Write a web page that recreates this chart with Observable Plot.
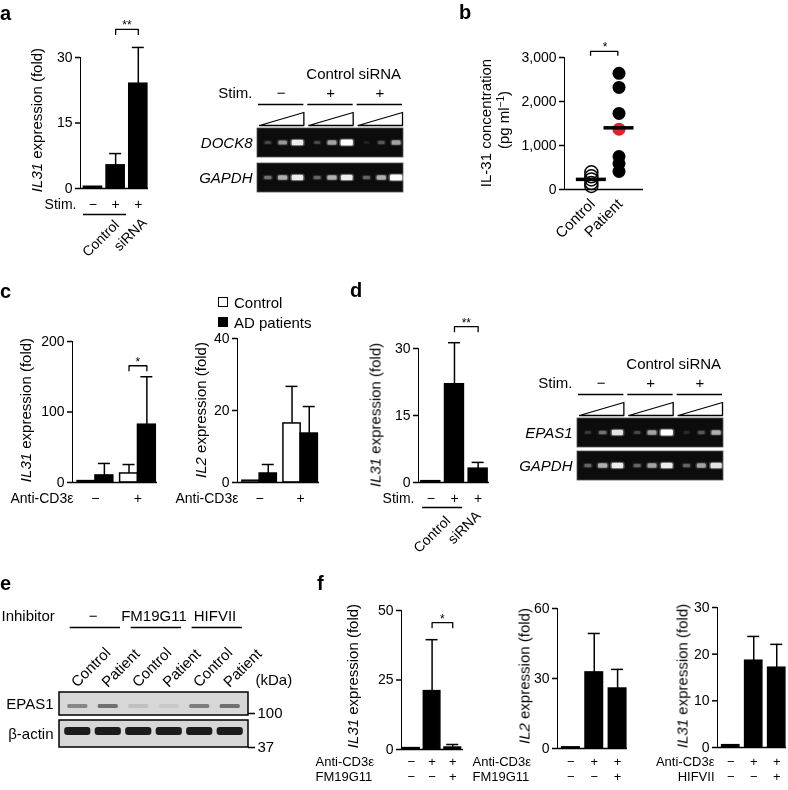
<!DOCTYPE html>
<html><head><meta charset="utf-8">
<script src="https://cdn.jsdelivr.net/npm/d3@7"></script>
<script src="https://cdn.jsdelivr.net/npm/@observablehq/plot@0.6"></script>
<style>
html,body{margin:0;padding:0;background:#fff;}
#fig{position:relative;width:788px;height:790px;overflow:hidden;font-family:"Liberation Sans",Arial,Helvetica,sans-serif;color:#000;background:#fff;}
#fig svg{will-change:transform;}
.lbl{position:absolute;white-space:nowrap;line-height:1;font-size:15px;}
#fig svg g[aria-label^="y-axis"] path,#fig svg g[aria-label^="y-axis"] line{stroke-width:1.5px;}
.sq{position:absolute;width:8px;height:8px;border:1.5px solid #000;}
</style></head>
<body><div id="fig"></div>
<script>
// ================= DATA =================
// Panel a
const aStim = ["−", "+", "+"];
const aIL31 = [0.4, 5.3, 24.0];
const aIL31Err = [0, 2.7, 8.3];
const aTicks = [0, 15, 30];
const aGroupLabels = ["Control", "siRNA"];
const aGelGroupLabels = ["", "Control", "siRNA"];
const aGelStim = ["−", "+", "+"];
const aGelGenes = ["DOCK8", "GAPDH"];
const aDOCK8 = [[0.2, 0.5, 0.9], [0.2, 0.55, 1.0], [0.08, 0.25, 0.55]];
const aGAPDH = [[0.35, 0.6, 0.9], [0.3, 0.6, 0.9], [0.3, 0.6, 1.0]];
// Panel b
const bGroups = ["Control", "Patient"];
const bControl = [390, 300, 230, 150, 80];
const bPatient = [2640, 2320, 1730, 1370, 750, 590, 410];
const bHighlight = 1370;
const bTicks = [0, 1000, 2000, 3000];
// Panel c
const cAnti = ["−", "+"];
const cLegend = ["Control", "AD patients"];
const cIL31Ctrl = [2, 12.8], cIL31CtrlErr = [0, 12.7];
const cIL31AD = [10, 82], cIL31ADErr = [17, 68];
const cIL31Ticks = [0, 100, 200];
const cIL2Ctrl = [0.5, 16.4], cIL2CtrlErr = [0, 10.3];
const cIL2AD = [2.5, 13.6], cIL2ADErr = [2.5, 7.5];
const cIL2Ticks = [0, 20, 40];
// Panel d
const dStim = ["−", "+", "+"];
const dIL31 = [0.3, 22, 3.1], dIL31Err = [0, 9.3, 1.4];
const dTicks = [0, 15, 30];
const dGroupLabels = ["Control", "siRNA"];
const dGelGroupLabels = ["", "Control", "siRNA"];
const dGelGenes = ["EPAS1", "GAPDH"];
const dEPAS1 = [[0.15, 0.35, 0.85], [0.2, 0.55, 1.0], [0.1, 0.25, 0.6]];
const dGAPDH = [[0.3, 0.6, 0.9], [0.3, 0.55, 0.9], [0.3, 0.55, 0.85]];
// Panel e
const eInhibitors = ["−", "FM19G11", "HIFVII"];
const eLanes = ["Control", "Patient", "Control", "Patient", "Control", "Patient"];
const eProteins = ["EPAS1", "β-actin"];
const eEPAS1 = [0.55, 0.7, 0.15, 0.1, 0.6, 0.7];
const eActin = [1, 1, 1, 1, 1, 1];
const eMarkers = ["100", "37"];
// Panel f
const fAnti = ["−", "+", "+"];
const fFM = ["−", "−", "+"];
const fHIF = ["−", "−", "+"];
const f1IL31 = [0.5, 21, 0.7], f1Err = [0, 18.5, 1.1];
const f2IL2 = [0.5, 32.6, 25.7], f2Err = [0, 16.7, 8.2];
const f3IL31 = [0.5, 18.6, 17.1], f3Err = [0, 5.2, 5.0];
const fTicks1 = [0, 25, 50], fTicks2 = [0, 30, 60], fTicks3 = [0, 10, 20, 30];

// ================= HELPERS =================
const FONT = '"Liberation Sans", Arial, Helvetica, sans-serif';
const STYLE = {fontFamily: FONT, fontSize: "14px", background: "transparent", overflow: "visible", color: "black"};
const fig = document.getElementById("fig");
function place(node, left, top) {
  node.style.position = "absolute";
  node.style.left = left + "px";
  node.style.top = top + "px";
  fig.appendChild(node);
}
function label(html, x, y, o = {}) {
  const d = document.createElement("div");
  d.className = "lbl";
  d.innerHTML = html;
  const ax = o.anchor === "end" ? 100 : o.anchor === "start" ? 0 : 50;
  d.style.left = x + "px";
  d.style.top = y + "px";
  if (o.size) d.style.fontSize = o.size + "px";
  if (o.weight) d.style.fontWeight = o.weight;
  d.style.transformOrigin = `${ax}% 50%`;
  d.style.transform = `translate(${-ax}%,-50%) rotate(${o.rot || 0}deg)`;
  fig.appendChild(d);
}
function letter(ch, x, baseline) {
  const d = document.createElement("div");
  d.className = "lbl";
  d.textContent = ch;
  d.style.fontSize = "20px";
  d.style.fontWeight = "bold";
  d.style.left = x + "px";
  d.style.top = (baseline - 0.846 * 20) + "px";
  fig.appendChild(d);
}

function barChart(o) {
  const mL = 95, mR = 8, mT = 50, mB = 55;
  const pw = o.endX - o.axisX, ph = o.y0 - o.yTop;
  const ppu = ph / o.yMax, upx = pw / o.n;
  const bars = o.bars.map(d => ({...d, xc: (d.x1 + d.x2) / 2}));
  const errs = bars.filter(d => d.e > 0);
  const cap = 6 / upx;
  const marks = [
    Plot.rect(bars.filter(d => d.fill === "white"), {x1: "x1", x2: "x2", y1: 0, y2: "v", fill: "white", stroke: "black", strokeWidth: 1.5}),
    Plot.rect(bars.filter(d => d.fill !== "white"), {x1: "x1", x2: "x2", y1: 0, y2: "v", fill: "black", stroke: "black", strokeWidth: 1.5}),
    Plot.ruleX(errs, {x: "xc", y1: "v", y2: d => d.v + d.e, strokeWidth: 1.5}),
    Plot.ruleY(errs, {y: d => d.v + d.e, x1: d => d.xc - cap, x2: d => d.xc + cap, strokeWidth: 1.5}),
    Plot.ruleY([0], {strokeWidth: 1.5})
  ];
  for (const b of o.brackets || []) {
    const top = d3.max(bars.slice(b.i, b.j + 1), d => d.v + d.e);
    const y = top + b.gap / ppu, leg = 5 / ppu;
    const xa = bars[b.i].xc, xb = bars[b.j].xc;
    marks.push(Plot.line([[xa, y - leg], [xa, y], [xb, y], [xb, y - leg]], {x: d => d[0], y: d => d[1], strokeWidth: 1.3, curve: "linear"}));
    marks.push(Plot.text([b.text], {x: (xa + xb) / 2, y: y, text: d => d, dy: -4, fontSize: 12}));
  }
  for (const r of o.rows || []) {
    const fs = r.fontSize || 14;
    marks.push(Plot.text(r.signs, {x: (d, i) => r.xs[i], y: 0, text: d => d, dy: r.dy, fontSize: fs}));
    marks.push(Plot.text([r.label], {x: 0, y: 0, text: d => d, dy: r.dy, dx: r.dx, textAnchor: r.anchor, fontSize: fs}));
  }
  for (const u of o.underlines || []) marks.push(Plot.ruleY([0], {x1: u.x1, x2: u.x2, dy: u.dy, strokeWidth: 1.3}));
  for (const l of o.rotLabels || []) marks.push(Plot.text([l.text], {x: l.x, y: 0, text: d => d, dy: l.dy, rotate: -45, textAnchor: "end"}));
  const p = Plot.plot({
    width: mL + pw + mR, height: mT + ph + mB,
    marginLeft: mL, marginRight: mR, marginTop: mT, marginBottom: mB,
    x: {domain: [0, o.n], axis: null},
    y: {domain: [0, o.yMax], ticks: o.ticks, tickSize: 5, tickPadding: 3, tickFormat: o.fmt || (d => String(d)), label: null, line: true},
    style: STYLE, marks
  });
  place(p, o.axisX - mL, o.yTop - mT);
}

function gelPanel(o) {
  const mL = 70, mR = 6, up = 64, down = o.row2 + 31;
  const W = mL + 146 + mR, H = up + down;
  const groups = [0, 1, 2];
  const rowTop = [0, o.row2];
  const bandData = o.bands.flatMap((gene, r) => gene.flatMap((grp, g) => grp.map((v, k) => ({r, g, k, v}))));
  const bx = d => d.g + 0.2 + 0.3 * d.k;
  const hw = d => 0.05 + 0.075 * d.v;
  const hh = d => 1.2 + 1.8 * d.v;
  const wedge = groups.flatMap(g => [[g + 0.02, -3, g], [g + 0.92, -16, g], [g + 0.92, -3, g], [g + 0.02, -3, g]]);
  const marks = [
    Plot.text(o.groupLabels, {x: (d, i) => i + 0.46, y: -54, text: d => d, fontSize: 15}),
    Plot.text(["Stim."], {x: -0.02, y: -35, dx: -5, textAnchor: "end", text: d => d, fontSize: 15}),
    Plot.text(o.stim, {x: (d, i) => i + 0.46, y: -35, text: d => d, fontSize: 15}),
    Plot.ruleY(groups, {y: () => -24, x1: g => g, x2: g => g + 0.92, strokeWidth: 1.5}),
    Plot.line(wedge, {x: d => d[0], y: d => d[1], z: d => d[2], strokeWidth: 1.3, curve: "linear"}),
    Plot.rect(o.genes, {x1: -0.02, x2: 2.94, y1: (d, i) => rowTop[i], y2: (d, i) => rowTop[i] + 29, fill: "#0c0c0c", stroke: "#555", strokeWidth: 0.8}),
    Plot.rect(bandData, {x1: d => bx(d) - hw(d) - 0.03, x2: d => bx(d) + hw(d) + 0.03, y1: d => rowTop[d.r] + 14.5 - hh(d) - 1, y2: d => rowTop[d.r] + 14.5 + hh(d) + 1, fill: "white", fillOpacity: d => d.v * 0.3, rx: 2}),
    Plot.rect(bandData, {x1: d => bx(d) - hw(d), x2: d => bx(d) + hw(d), y1: d => rowTop[d.r] + 14.5 - hh(d), y2: d => rowTop[d.r] + 14.5 + hh(d), fill: "white", fillOpacity: d => d.v, rx: 1.5}),
    Plot.text(o.genes, {x: -0.02, y: (d, i) => rowTop[i] + 14.5, dx: -5, textAnchor: "end", fontStyle: "italic", text: d => d, fontSize: 15})
  ];
  const p = Plot.plot({
    width: W, height: H, marginLeft: mL, marginRight: mR, marginTop: 0, marginBottom: 0,
    x: {domain: [-0.02, 2.94], axis: null},
    y: {domain: [down, -up], axis: null},
    style: STYLE, marks
  });
  place(p, o.left - mL, o.top - up);
}

function panelB() {
  const axisX = 564, yTop = 57, y0 = 189, endX = 643, yMax = 3000;
  const mL = 95, mR = 8, mT = 50, mB = 55;
  const pw = endX - axisX, ph = y0 - yTop, ppu = ph / yMax;
  const pos = [0.68, 1.38];
  const pts = [...bControl.map(v => ({g: 0, v})), ...bPatient.map(v => ({g: 1, v}))];
  const means = [{g: 0, m: d3.mean(bControl)}, {g: 1, m: d3.mean(bPatient)}];
  const by = d3.max(bPatient) + 22 / ppu, leg = 4 / ppu;
  const marks = [
    Plot.dot(pts.filter(d => d.g === 0), {x: d => pos[d.g], y: "v", r: 6.5, fill: "none", stroke: "black", strokeWidth: 1.5}),
    Plot.dot(pts.filter(d => d.g === 1 && d.v !== bHighlight), {x: d => pos[d.g], y: "v", r: 6.5, fill: "black"}),
    Plot.dot(pts.filter(d => d.g === 1 && d.v === bHighlight), {x: d => pos[d.g], y: "v", r: 6.5, fill: "#e5202a"}),
    Plot.ruleY(means, {y: "m", x1: d => pos[d.g] - 0.38, x2: d => pos[d.g] + 0.38, strokeWidth: 3.5}),
    Plot.ruleY([0], {strokeWidth: 1.5}),
    Plot.line([[pos[0] - 0.02, by - leg], [pos[0] - 0.02, by], [pos[1] - 0.03, by], [pos[1] - 0.03, by - leg]], {x: d => d[0], y: d => d[1], strokeWidth: 1.3}),
    Plot.text(["*"], {x: (pos[0] + pos[1]) / 2, y: by, dy: -4, fontSize: 12, text: d => d}),
    ...bGroups.map((t, i) => Plot.text([t], {x: pos[i], y: 0, dy: 12, dx: 1, rotate: -45, textAnchor: "end", text: d => d, fontSize: 15}))
  ];
  const p = Plot.plot({
    width: mL + pw + mR, height: mT + ph + mB,
    marginLeft: mL, marginRight: mR, marginTop: mT, marginBottom: mB,
    x: {domain: [0, 2], axis: null},
    y: {domain: [0, yMax], ticks: bTicks, tickSize: 5, tickPadding: 3, tickFormat: d3.format(","), label: null, line: true},
    style: STYLE, marks
  });
  place(p, axisX - mL, yTop - mT);
}

function panelE() {
  const boxL = 59, boxR = 248, mL = 59, mR = 45, up = 92, down = 63;
  const W = mL + (boxR - boxL) + mR, H = up + down;
  const rowsY = [[0, 23], [28, 55]];
  const band = [...eEPAS1.map((v, i) => ({r: 0, i, v})), ...eActin.map((v, i) => ({r: 1, i, v}))];
  const markerY = (d, i) => rowsY[i][1] - (i === 0 ? 2 : 0);
  const marks = [
    Plot.text(["Inhibitor"], {x: -0.6, y: -76, dx: -58, textAnchor: "start", text: d => d, fontSize: 15}),
    Plot.text(eInhibitors, {x: (d, i) => 2 * i + 0.5, y: -76, text: d => d, fontSize: 15}),
    Plot.ruleY(eInhibitors, {y: () => -65, x1: (d, i) => 2 * i - 0.25, x2: (d, i) => 2 * i + 1.4, strokeWidth: 1.5}),
    Plot.text(eLanes, {x: (d, i) => i, y: -8, dx: -4, rotate: -45, textAnchor: "start", text: d => d, fontSize: 15}),
    Plot.text(["(kDa)"], {x: 5.6, y: -12, dx: 7, textAnchor: "start", text: d => d, fontSize: 15}),
    Plot.rect(eProteins, {x1: -0.6, x2: 5.6, y1: (d, i) => rowsY[i][0], y2: (d, i) => rowsY[i][1], fill: "#d7d7d7", stroke: "black", strokeWidth: 1.5}),
    Plot.rect(band.filter(d => d.r === 0), {x1: d => d.i - 0.33, x2: d => d.i + 0.33, y1: 12, y2: 16, fill: "#2a2a2a", fillOpacity: d => d.v * 0.85, rx: 1.5}),
    Plot.rect(band.filter(d => d.r === 1), {x1: d => d.i - 0.43, x2: d => d.i + 0.43, y1: 35, y2: 43, fill: "#1c1c1c", fillOpacity: d => d.v, rx: 3}),
    Plot.text(eProteins, {x: -0.6, y: (d, i) => (rowsY[i][0] + rowsY[i][1]) / 2, dx: -6, textAnchor: "end", text: d => d, fontSize: 15}),
    Plot.ruleY(eMarkers, {y: markerY, x1: 5.6, x2: 5.83, strokeWidth: 1.5}),
    Plot.text(eMarkers, {x: 5.83, y: markerY, dx: 2, textAnchor: "start", text: d => d, fontSize: 15})
  ];
  const p = Plot.plot({
    width: W, height: H, marginLeft: mL, marginRight: mR, marginTop: 0, marginBottom: 0,
    x: {domain: [-0.6, 5.6], axis: null},
    y: {domain: [down, -up], axis: null},
    style: STYLE, marks
  });
  place(p, 0, 692 - up);
}

// ================= BUILD =================
// Panel a
const aBars = aIL31.map((v, i) => ({x1: i + 0.15, x2: i + 0.95, v, e: aIL31Err[i], fill: "black"}));
barChart({
  axisX: 80, yTop: 57, y0: 188, endX: 148, n: 3, yMax: 30, ticks: aTicks, bars: aBars,
  brackets: [{i: 1, j: 2, gap: 18, text: "**"}],
  rows: [{signs: aStim, xs: aBars.map(d => (d.x1 + d.x2) / 2), dy: 16, label: "Stim.", dx: -4, anchor: "end"}],
  underlines: [{x1: 0.13, x2: 2.03, dy: 26}],
  rotLabels: [{text: aGroupLabels[0], x: 1.6, dy: 34}, {text: aGroupLabels[1], x: 2.82, dy: 32}]
});
label("<i>IL31</i> expression (fold)", 36, 120, {rot: -90});
gelPanel({left: 257, top: 128, row2: 35, genes: aGelGenes, bands: [aDOCK8, aGAPDH], groupLabels: aGelGroupLabels, stim: aGelStim});

// Panel b
panelB();
label("IL-31 concentration", 485, 123, {rot: -90});
label("(pg ml<sup style='font-size:10px;vertical-align:5px'>−1</sup>)", 503, 120, {rot: -90});

// Panel c
const cBars = (ctrl, ctrlE, ad, adE) => cAnti.flatMap((s, g) => [
  {x1: g + 0.12, x2: g + 0.54, v: ctrl[g], e: ctrlE[g], fill: "white"},
  {x1: g + 0.54, x2: g + 0.96, v: ad[g], e: adE[g], fill: "black"}]);
barChart({
  axisX: 72, yTop: 341, y0: 482, endX: 157, n: 2, yMax: 200, ticks: cIL31Ticks,
  bars: cBars(cIL31Ctrl, cIL31CtrlErr, cIL31AD, cIL31ADErr),
  brackets: [{i: 2, j: 3, gap: 11, text: "*"}],
  rows: [{signs: cAnti, xs: [0.54, 1.54], dy: 16, label: "Anti-CD3ε", dx: 1, anchor: "end"}]
});
label("<i>IL31</i> expression (fold)", 25, 410, {rot: -90});
barChart({
  axisX: 237, yTop: 338, y0: 482, endX: 319, n: 2, yMax: 40, ticks: cIL2Ticks,
  bars: cBars(cIL2Ctrl, cIL2CtrlErr, cIL2AD, cIL2ADErr),
  rows: [{signs: cAnti, xs: [0.54, 1.54], dy: 16, label: "Anti-CD3ε", dx: 1, anchor: "end"}]
});
label("<i>IL2</i> expression (fold)", 200, 410, {rot: -90});
// legend
(function () {
  const s1 = document.createElement("div"); s1.className = "sq"; s1.style.left = "218px"; s1.style.top = "297px"; s1.style.background = "#fff"; fig.appendChild(s1);
  const s2 = document.createElement("div"); s2.className = "sq"; s2.style.left = "218px"; s2.style.top = "317px"; s2.style.background = "#000"; fig.appendChild(s2);
  label(cLegend[0], 234, 302, {anchor: "start", size: 15});
  label(cLegend[1], 234, 322, {anchor: "start", size: 15});
})();

// Panel d
const dBars = dIL31.map((v, i) => ({x1: i + 0.12, x2: i + 0.92, v, e: dIL31Err[i], fill: "black"}));
barChart({
  axisX: 418, yTop: 348, y0: 482, endX: 489, n: 3, yMax: 30, ticks: dTicks, bars: dBars,
  brackets: [{i: 1, j: 2, gap: 16, text: "**"}],
  rows: [{signs: dStim, xs: dBars.map(d => (d.x1 + d.x2) / 2), dy: 16, label: "Stim.", dx: -4, anchor: "end"}],
  underlines: [{x1: 0.17, x2: 1.86, dy: 25}],
  rotLabels: [{text: dGroupLabels[0], x: 1.25, dy: 36}, {text: dGroupLabels[1], x: 2.53, dy: 31}]
});
label("<i>IL31</i> expression (fold)", 375, 415, {rot: -90});
gelPanel({left: 577, top: 418, row2: 33, genes: dGelGenes, bands: [dEPAS1, dGAPDH], groupLabels: dGelGroupLabels, stim: dStim});

// Panel e
panelE();

// Panel f
const fb = (vals, errs, a, b) => vals.map((v, i) => ({x1: i + a, x2: i + b, v, e: errs[i], fill: "black"}));
const f1Bars = fb(f1IL31, f1Err, 0.08, 0.88);
barChart({
  axisX: 401, yTop: 610, y0: 749, endX: 463, n: 3, yMax: 50, ticks: fTicks1, bars: f1Bars,
  brackets: [{i: 1, j: 2, gap: 17, text: "*"}],
  rows: [
    {signs: fAnti, xs: f1Bars.map(d => (d.x1 + d.x2) / 2), dy: 12, label: "Anti-CD3ε", dx: -86, anchor: "start", fontSize: 13},
    {signs: fFM, xs: f1Bars.map(d => (d.x1 + d.x2) / 2), dy: 27, label: "FM19G11", dx: -86, anchor: "start", fontSize: 13}]
});
label("<i>IL31</i> expression (fold)", 352, 676, {rot: -90});
const f2Bars = fb(f2IL2, f2Err, 0.2, 0.95);
barChart({
  axisX: 557, yTop: 608, y0: 748, endX: 627, n: 3, yMax: 60, ticks: fTicks2, bars: f2Bars,
  rows: [
    {signs: fAnti, xs: f2Bars.map(d => (d.x1 + d.x2) / 2), dy: 13, label: "Anti-CD3ε", dx: -85, anchor: "start", fontSize: 13},
    {signs: fFM, xs: f2Bars.map(d => (d.x1 + d.x2) / 2), dy: 28, label: "FM19G11", dx: -85, anchor: "start", fontSize: 13}]
});
label("<i>IL2</i> expression (fold)", 524, 676, {rot: -90});
const f3Bars = fb(f3IL31, f3Err, 0.2, 0.95);
barChart({
  axisX: 717, yTop: 607, y0: 747, endX: 786, n: 3, yMax: 30, ticks: fTicks3, bars: f3Bars,
  rows: [
    {signs: fAnti, xs: f3Bars.map(d => (d.x1 + d.x2) / 2), dy: 14, label: "Anti-CD3ε", dx: -3, anchor: "end", fontSize: 13},
    {signs: fHIF, xs: f3Bars.map(d => (d.x1 + d.x2) / 2), dy: 29, label: "HIFVII", dx: -3, anchor: "end", fontSize: 13}]
});
label("<i>IL31</i> expression (fold)", 682, 676, {rot: -90});

// Panel letters
letter("a", 0, 20);
letter("b", 459, 19);
letter("c", 0, 298);
letter("d", 350, 297);
letter("e", 0, 590);
letter("f", 317, 590);
</script></body></html>
